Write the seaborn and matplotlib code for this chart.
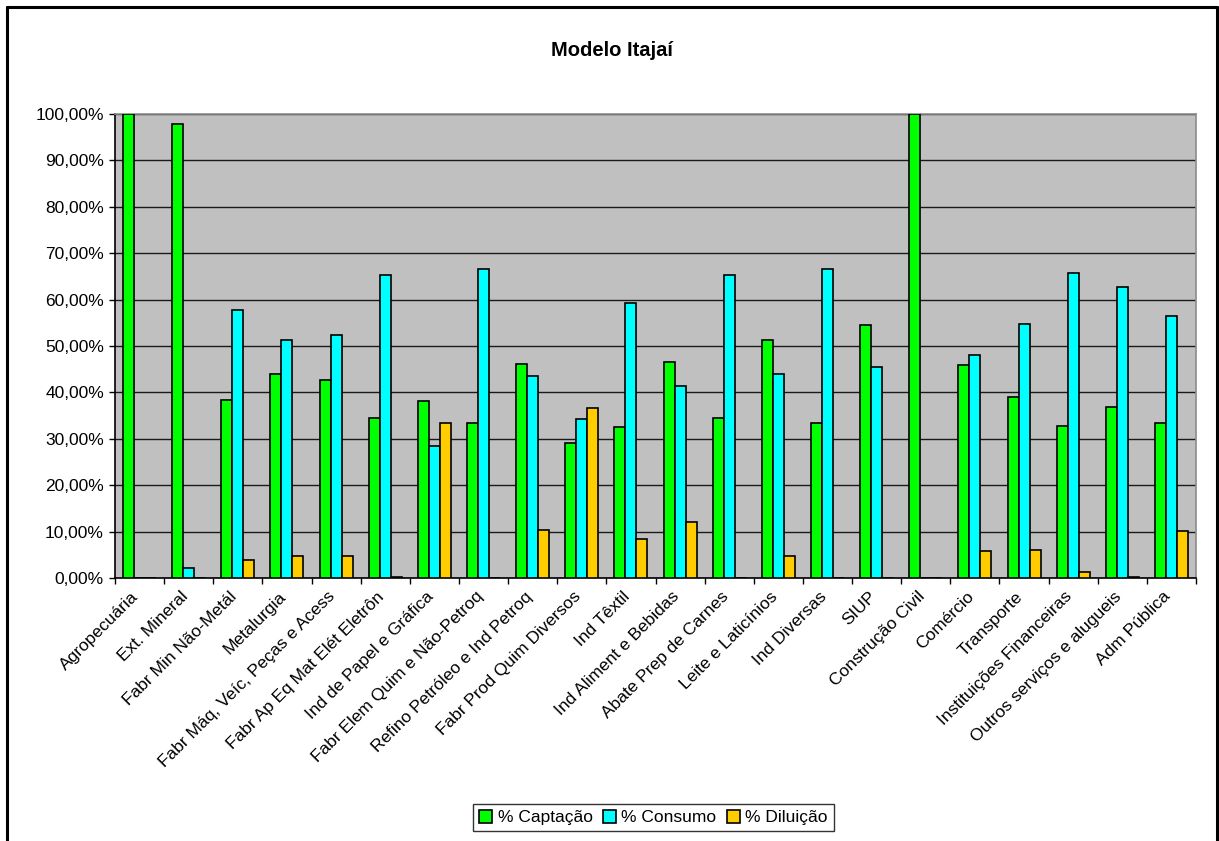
import matplotlib
matplotlib.use("Agg")
import matplotlib.pyplot as plt
from matplotlib.lines import Line2D
from matplotlib.ticker import FuncFormatter, FixedLocator
import numpy as np
import pandas as pd
import seaborn as sns

sectors = [
    "Agropecuária", "Ext. Mineral", "Fabr Min Não-Metál", "Metalurgia",
    "Fabr Máq, Veíc, Peças e Acess", "Fabr Ap Eq Mat Elét Eletrôn",
    "Ind de Papel e Gráfica", "Fabr Elem Quim e Não-Petroq",
    "Refino Petróleo e Ind Petroq", "Fabr Prod Quim Diversos", "Ind Têxtil",
    "Ind Aliment e Bebidas", "Abate Prep de Carnes", "Leite e Laticínios",
    "Ind Diversas", "SIUP", "Construção Civil", "Comércio", "Transporte",
    "Instituições Financeiras", "Outros serviços e alugueis", "Adm Pública",
]

captacao = [100.0, 97.8, 38.3, 44.0, 42.6, 34.5, 38.1, 33.3, 46.1, 29.2, 32.5,
            46.5, 34.5, 51.2, 33.3, 54.5, 100.0, 45.9, 39.1, 32.8, 36.8, 33.5]
consumo = [0.0, 2.2, 57.8, 51.2, 52.4, 65.2, 28.5, 66.6, 43.5, 34.3, 59.2,
           41.4, 65.4, 44.0, 66.6, 45.4, 0.0, 48.1, 54.7, 65.7, 62.8, 56.4]
diluicao = [0.0, 0.0, 3.9, 4.7, 4.8, 0.3, 33.3, 0.0, 10.3, 36.6, 8.3,
            12.1, 0.0, 4.7, 0.0, 0.0, 0.0, 5.9, 6.0, 1.4, 0.3, 10.1]

series_names = ["% Captação", "% Consumo", "% Diluição"]
series_colors = ["#00FF00", "#00FFFF", "#FFCC00"]

df = pd.DataFrame({
    "Setor": sectors * 3,
    "Série": np.repeat(series_names, len(sectors)),
    "Valor": captacao + consumo + diluicao,
})

sns.set_theme(style="white")
plt.rcParams["font.family"] = ["Liberation Sans", "DejaVu Sans"]
plt.rcParams.update({
    "text.color": "black", "axes.labelcolor": "black",
    "xtick.color": "black", "ytick.color": "black",
})

FS = 12.5

fig = plt.figure(figsize=(12.19, 8.41), dpi=100)
ax = fig.add_axes([115 / 1219, 1 - 578 / 841, (1196 - 115) / 1219, (578 - 114) / 841])
ax.set_facecolor("#C0C0C0")

sns.barplot(
    data=df, x="Setor", y="Valor", hue="Série", order=sectors,
    hue_order=series_names, palette=series_colors, width=0.672, gap=0,
    errorbar=None, edgecolor="black", linewidth=1.2, saturation=1, ax=ax,
    zorder=3,
)

ax.set_ylim(0, 100)
ax.set_xlim(-0.5, len(sectors) - 0.5)
ax.set_yticks(np.arange(0, 101, 10))
ax.yaxis.set_major_formatter(FuncFormatter(lambda v, p: f"{v:.2f}%".replace(".", ",")))
ax.grid(axis="y", color="#1a1a1a", linewidth=1.0, zorder=1)
ax.set_axisbelow(True)
ax.set_xlabel("")
ax.set_ylabel("")

# category labels at centres, tick marks at the category boundaries
ax.set_xticks(range(len(sectors)))
ax.set_xticklabels(sectors, rotation=45, ha="right", va="baseline",
                   rotation_mode="anchor", fontsize=FS, color="black")
ax.xaxis.set_minor_locator(FixedLocator(np.arange(-0.5, len(sectors), 1.0)))
ax.tick_params(axis="x", which="major", length=0, pad=14)
ax.tick_params(axis="x", which="minor", length=4, width=1, color="black",
               direction="out", bottom=True)
ax.tick_params(axis="y", which="major", length=4, width=1, color="black",
               direction="out", left=True, pad=4, labelsize=FS, labelcolor="black")

for side in ("left", "bottom"):
    ax.spines[side].set_color("black")
    ax.spines[side].set_linewidth(1.2)
for side in ("top", "right"):
    ax.spines[side].set_color("#8c8c8c")
    ax.spines[side].set_linewidth(1.2)

leg = ax.legend(
    loc="center", bbox_to_anchor=(653.5 / 1219, 1 - 817.5 / 841),
    bbox_transform=fig.transFigure, ncol=3, frameon=True, fancybox=False,
    edgecolor="black", fontsize=FS, handlelength=0.75, handleheight=0.75,
    handletextpad=0.3, columnspacing=0.6, borderpad=0.35, borderaxespad=0,
)
leg.get_frame().set_linewidth(1.0)
for h in leg.legend_handles:
    h.set_edgecolor("black")
    h.set_linewidth(1.2)

fig.text(612 / 1219, 1 - 50 / 841, "Modelo Itajaí", ha="center", va="center",
         fontsize=14.5, fontweight="bold", color="black")

# outer chart frame
fx0, fx1, fy1 = 6.5 / 1219, 1216.5 / 1219, 1 - 6.5 / 841
for xs, ys in (([fx0, fx0], [0, fy1]), ([fx0, fx1], [fy1, fy1]), ([fx1, fx1], [fy1, 0])):
    fig.add_artist(Line2D(xs, ys, transform=fig.transFigure, color="black", linewidth=2.2))

fig.savefig("out.png", dpi=100, facecolor="white")
